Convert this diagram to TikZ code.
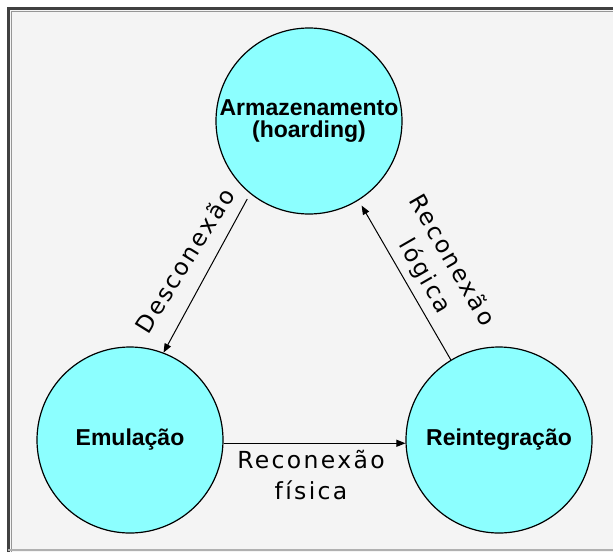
\documentclass[tikz,border=0pt]{standalone}
\usepackage{fontspec}
\setmainfont{Liberation Sans}
\newfontfamily\lblfont[LetterSpace=10]{DejaVu Sans}
\usetikzlibrary{arrows.meta}
\definecolor{bgin}{RGB}{244,244,244}
\definecolor{circfill}{RGB}{140,255,255}
\definecolor{framedark}{RGB}{64,64,64}
\definecolor{framemid}{RGB}{150,150,150}
\definecolor{framelight}{RGB}{176,176,176}
\begin{document}
\begin{tikzpicture}[x=1pt,y=-1pt,
  state/.style={circle, draw=black, line width=1.2pt, fill=circfill, minimum size=186pt,
    inner sep=0pt, align=center, font=\fontsize{23}{22}\selectfont\bfseries},
  flow/.style={-{Triangle[length=9pt,width=7pt]}, line width=1pt},
  lbl/.style={font=\fontsize{23.5}{31}\selectfont\lblfont, align=center, inner sep=0pt}]
\useasboundingbox (0,0) rectangle (613,552);
\fill[white] (0,0) rectangle (613,552);
\fill[bgin] (8,8) rectangle (613,552);
\draw[framedark, line width=2.5pt] (8.5,552) -- (8.5,8.5) -- (613,8.5);
\draw[framemid, line width=1pt] (11,552) -- (11,11) -- (613,11);
\draw[framelight, line width=2pt] (8,550) -- (613,550);

\node[state] (arm) at (309,121) {Armazenamento\\(hoarding)};
\node[state] (emu) at (130,440) {Emulação};
\node[state] (rei) at (499,440) {Reintegração};

\draw[flow, shorten <=6pt] (arm.231) -- (emu.69);
\draw[flow] (emu.-2.5) -- (rei.182.5);
\draw[flow, shorten >=6pt] (rei.121.5) -- (arm.302);

\node[lbl, rotate=58] (ldes) at (184.5,260.5) {Desconexão};
\node[lbl, rotate=-60] (llog) at (438,268.5) {Reconexão\\lógica};
\node[lbl, anchor=north] (lfis) at (311,450) {Reconexão\\física};
\end{tikzpicture}
\end{document}
